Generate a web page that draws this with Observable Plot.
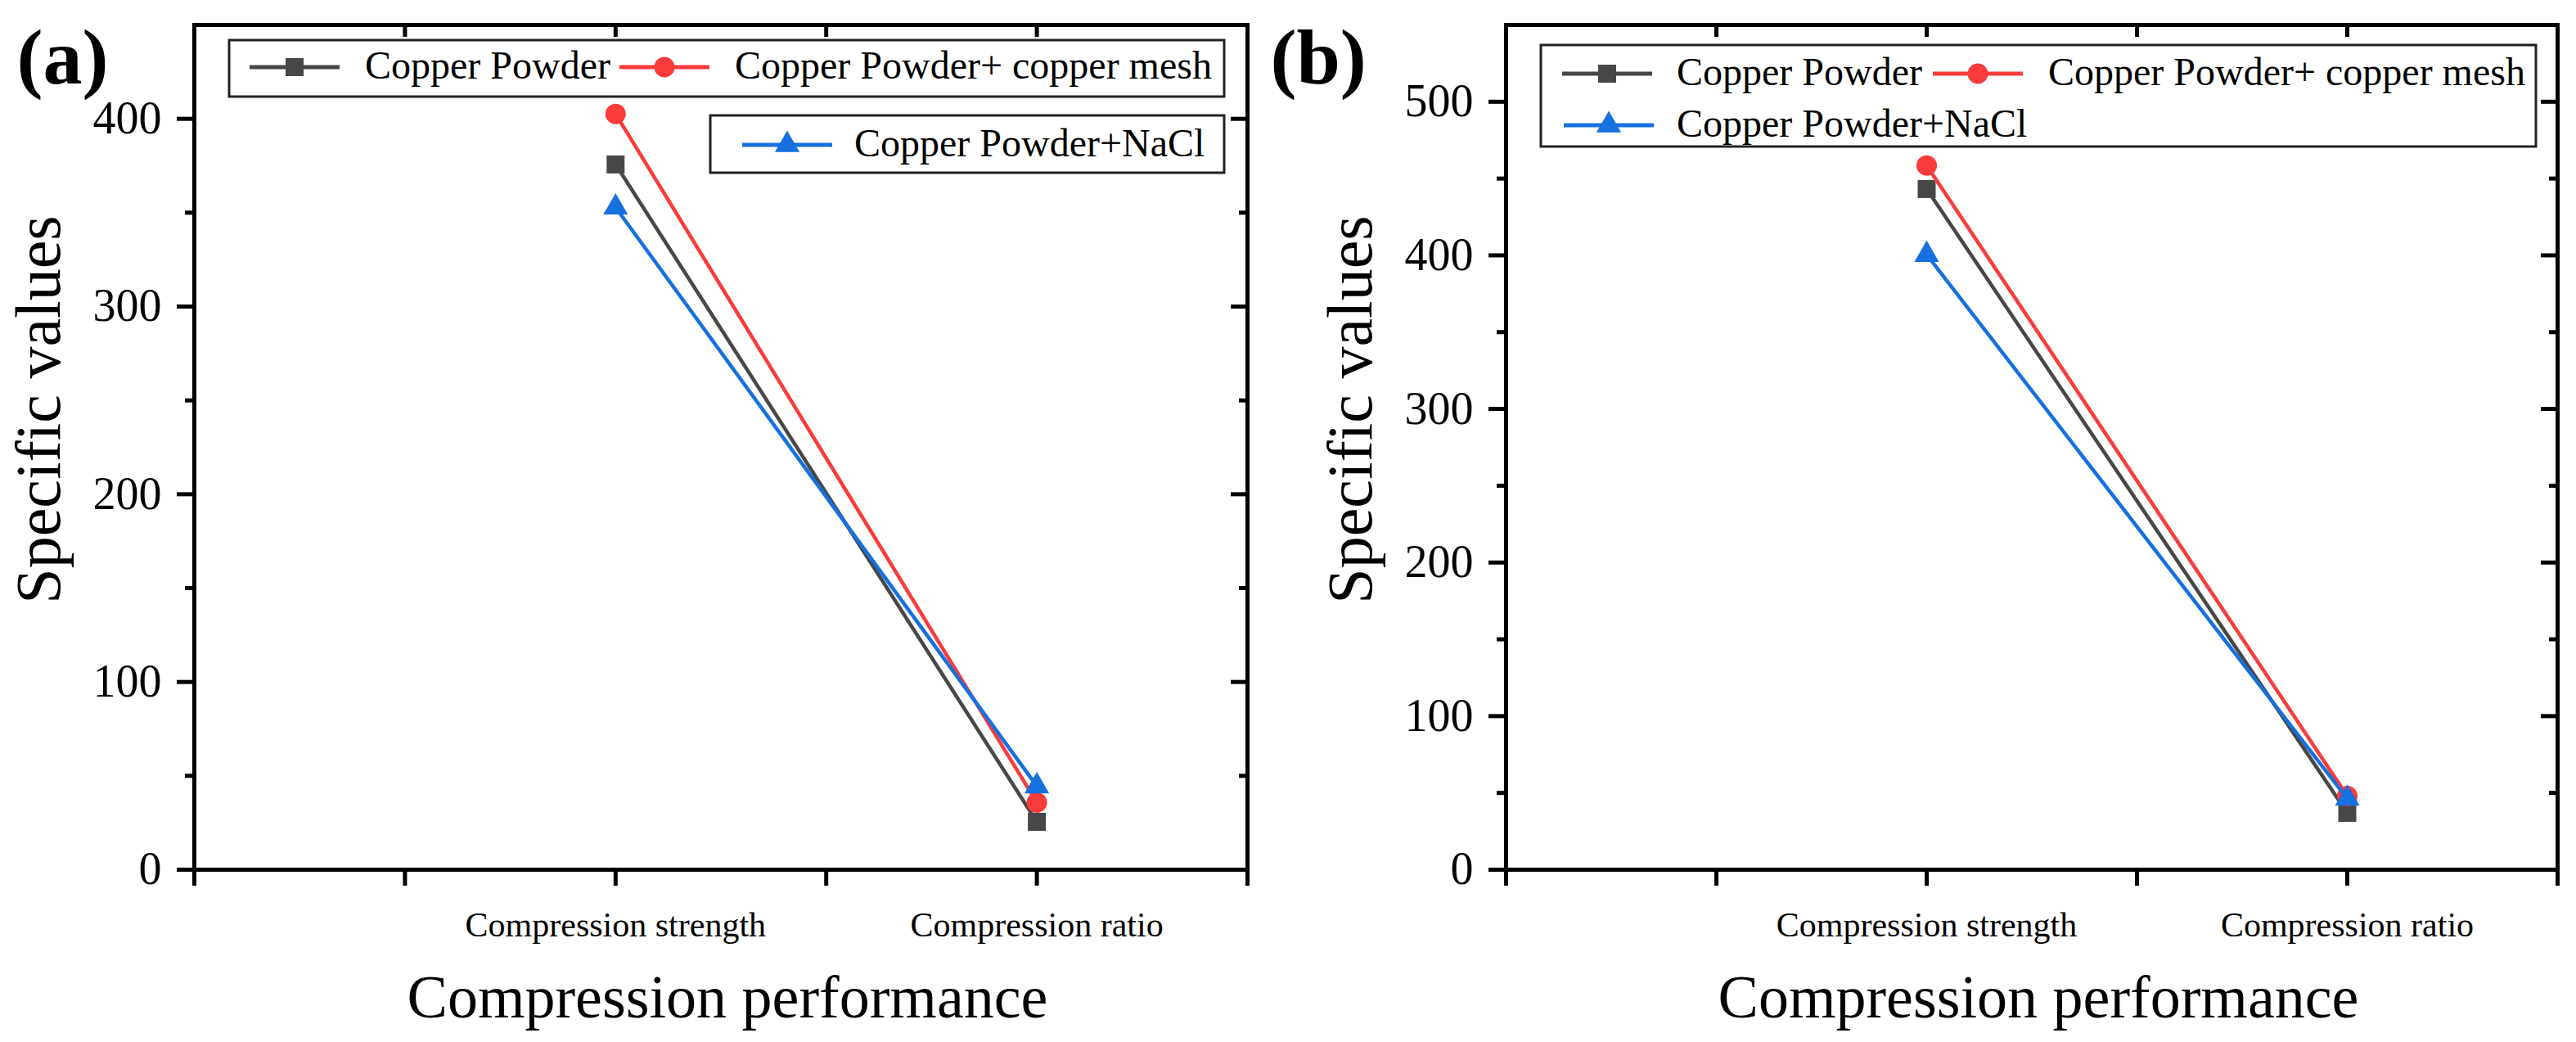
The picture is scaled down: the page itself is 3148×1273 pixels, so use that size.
<!DOCTYPE html>
<html>
<head>
<meta charset="utf-8">
<script src="https://cdn.jsdelivr.net/npm/d3@7"></script>
<script src="https://cdn.jsdelivr.net/npm/@observablehq/plot@0.6"></script>
<style>
  html, body { margin: 0; padding: 0; background: #fff; }
  #page { position: relative; width: 3148px; height: 1273px; overflow: hidden; background: #fff; }
  .panel { position: absolute; top: 0; }
  #overlay { position: absolute; left: 0; top: 0; pointer-events: none; }
</style>
</head>
<body>
<div id="page">
  <div id="panelA" class="panel" style="left:0px"></div>
  <div id="panelB" class="panel" style="left:1540px"></div>
</div>
<script>
// ---------- data ----------
const categories = ["Compression strength", "Compression ratio"];
const categoryIndex = [2, 4];
const xTicks = [0, 1, 2, 3, 4, 5];
const seriesNames = ["Copper Powder", "Copper Powder+ copper mesh", "Copper Powder+NaCl"];

const aCopperPowder = [375.7, 25.5];
const aCopperMesh   = [402.6, 35.8];
const aNaCl         = [352.8, 44.5];

const bCopperPowder = [443.2, 37.0];
const bCopperMesh   = [458.5, 48.0];
const bNaCl         = [400.4, 46.3];

const aYMax = 450;
const bYMax = 550;
const aYTicks = [0, 100, 200, 300, 400];
const bYTicks = [0, 100, 200, 300, 400, 500];

const panelLabels = ["(a)", "(b)"];
const xTitle = "Compression performance";
const yTitle = "Specific values";

// ---------- styles ----------
const FONT = "'Liberation Serif','Times New Roman',Times,serif";
const seriesColor = ["#474747", "#f93b3b", "#1670df"];
const seriesSymbol = ["square", "circle", "triangle"];
const seriesR = [12.4, 12.5, 11.2];

function rows(values) {
  return seriesNames.flatMap((s, si) =>
    values[si].map((v, ci) => ({series: s, si, x: categoryIndex[ci], y: v})));
}

function panel({values, yMax, yTicks, width, marginLeft, marginRight, label, labelDx}) {
  const data = rows(values);
  const minor = d3.range(50, yMax, 100);
  const seriesMarks = seriesNames.flatMap((s, si) => {
    const d = data.filter(r => r.si === si);
    return [
      Plot.line(d, {x: "x", y: "y", stroke: seriesColor[si], strokeWidth: 4.5}),
      Plot.dot(d, {x: "x", y: "y", symbol: seriesSymbol[si], r: seriesR[si], fill: seriesColor[si], stroke: "none"})
    ];
  });
  return Plot.plot({
    width, height: 1273,
    marginLeft, marginRight, marginTop: 30, marginBottom: 211,
    x: {domain: [0, 5]},
    y: {domain: [0, yMax]},
    style: {fontFamily: FONT, color: "#000", background: "transparent", overflow: "visible"},
    marks: [
      // y axis left: minor and major ticks
      Plot.axisY(minor, {anchor: "left", tickSize: 11, tickFormat: () => "", strokeWidth: 5, label: null}),
      Plot.axisY(yTicks, {anchor: "left", tickSize: 21, tickPadding: 19, fontSize: 56, fontFamily: FONT,
        fontVariant: "normal", strokeWidth: 5, label: null}),
      // right mirror ticks (inward)
      Plot.axisY(minor, {anchor: "right", tickSize: -11, tickFormat: () => "", strokeWidth: 5, label: null}),
      Plot.axisY(yTicks, {anchor: "right", tickSize: -21, tickFormat: () => "", strokeWidth: 5, label: null}),
      // x axis bottom ticks
      Plot.axisX(xTicks, {anchor: "bottom", tickSize: 20, tickFormat: () => "", strokeWidth: 5, label: null}),
      Plot.axisX(categoryIndex, {anchor: "bottom", tickSize: 0, tickPadding: 52, fontSize: 42, fontFamily: FONT,
        tickFormat: d => categories[categoryIndex.indexOf(d)], label: null}),
      // top mirror ticks (inward)
      Plot.axisX(xTicks, {anchor: "top", tickSize: -14, tickFormat: () => "", strokeWidth: 5, label: null}),
      Plot.frame({stroke: "#000", strokeWidth: 5}),
      ...seriesMarks,
      Plot.text([xTitle], {frameAnchor: "bottom", dy: 157, dx: 8, fontSize: 74, fontFamily: FONT, fill: "#000",
        textAnchor: "middle", lineAnchor: "middle"}),
      Plot.text([yTitle], {frameAnchor: "left", dx: -189, dy: -46, rotate: -90, fontSize: 78, fontFamily: FONT,
        fill: "#000", textAnchor: "middle", lineAnchor: "middle"}),
      Plot.text([label], {frameAnchor: "top-left", dx: labelDx, dy: 71, textAnchor: "start",
        lineAnchor: "bottom", fontSize: 96, fontWeight: "bold", fontFamily: FONT, fill: "#000"})
    ]
  });
}

document.getElementById("panelA").appendChild(panel({
  values: [aCopperPowder, aCopperMesh, aNaCl], yMax: aYMax, yTicks: aYTicks,
  width: 1540, marginLeft: 237, marginRight: 16, label: panelLabels[0], labelDx: -217
}));
document.getElementById("panelB").appendChild(panel({
  values: [bCopperPowder, bCopperMesh, bNaCl], yMax: bYMax, yTicks: bYTicks,
  width: 1608, marginLeft: 300, marginRight: 23, label: panelLabels[1], labelDx: -288
}));

// ---------- legends (overlay) ----------
const legends = [
  {boxes: [{x: 280, y: 49, w: 1216, h: 69}, {x: 868, y: 141, w: 628, h: 70}],
   entries: [{s: 0, x0: 305, y: 82, tx: 446}, {s: 1, x0: 757, y: 82, tx: 898}, {s: 2, x0: 907, y: 177, tx: 1044}]},
  {boxes: [{x: 1883, y: 55, w: 1216, h: 124}],
   entries: [{s: 0, x0: 1909, y: 90, tx: 2049}, {s: 1, x0: 2362, y: 90, tx: 2503}, {s: 2, x0: 1911, y: 153, tx: 2049}]}
];
const symbolType = {square: d3.symbolSquare, circle: d3.symbolCircle, triangle: d3.symbolTriangle};
const ov = d3.select("#page").append("svg").attr("id", "overlay").attr("width", 3148).attr("height", 1273);
for (const L of legends) {
  for (const b of L.boxes) {
    ov.append("rect").attr("x", b.x).attr("y", b.y).attr("width", b.w).attr("height", b.h)
      .attr("fill", "#fff").attr("stroke", "#222").attr("stroke-width", 3);
  }
  for (const e of L.entries) {
    const c = seriesColor[e.s];
    ov.append("line").attr("x1", e.x0).attr("x2", e.x0 + 110).attr("y1", e.y).attr("y2", e.y)
      .attr("stroke", c).attr("stroke-width", 5);
    const r = seriesR[e.s];
    ov.append("path").attr("transform", `translate(${e.x0 + 55},${e.y})`)
      .attr("d", d3.symbol(symbolType[seriesSymbol[e.s]], Math.PI * r * r)())
      .attr("fill", c);
    ov.append("text").attr("x", e.tx).attr("y", e.y + 14)
      .attr("font-family", FONT).attr("font-size", 48).attr("fill", "#000")
      .text(seriesNames[e.s]);
  }
}
</script>
</body>
</html>
